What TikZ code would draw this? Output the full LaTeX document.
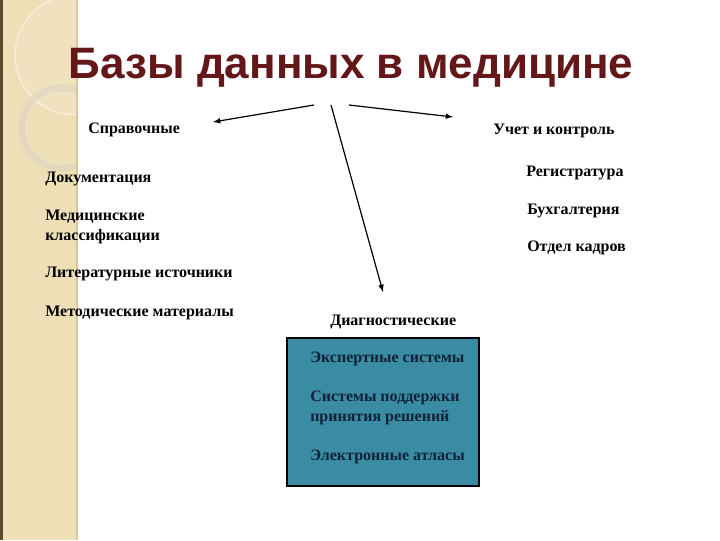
\documentclass[tikz,border=0pt]{standalone}
\usepackage{fontspec}
\setmainfont{Liberation Serif}
\newfontfamily\titlefont{Liberation Sans}
\definecolor{bandbg}{HTML}{EEDFB6}
\definecolor{bandedge}{HTML}{5E4A2E}
\definecolor{bandline}{HTML}{D8C69C}
\definecolor{ringcol}{HTML}{E2D7C0}
\definecolor{titlered}{HTML}{641719}
\definecolor{boxteal}{HTML}{3A8CA3}
\definecolor{boxtext}{HTML}{10213A}
\tikzset{
  lbl/.style={font=\bfseries\fontsize{12pt}{15pt}\selectfont, inner sep=0pt, anchor=west, align=left},
  boxlbl/.style={lbl, text=boxtext},
  arr/.style={-latex, line width=0.9pt, black}
}
\begin{document}
\begin{tikzpicture}[x=0.75pt,y=-0.75pt]
\useasboundingbox (0,0) rectangle (720,540);
\fill[white] (0,0) rectangle (720,540);
% left decorative band
\fill[bandbg] (0,0) rectangle (78,540);
\begin{scope}
  \clip (0,0) rectangle (78,540);
  \fill[white, opacity=0.12] (75,55) circle (60);
  \draw[white, opacity=0.5, line width=1pt] (75,55) circle (60);
  \draw[ringcol, opacity=0.75, line width=5.5pt] (62,128) circle (40);
  \draw[white, opacity=0.25, line width=0.8pt] (62,128) circle (36);
\end{scope}
\fill[bandedge] (0,0) rectangle (2.5,540);
\fill[bandline] (76,0) rectangle (78,540);
% title
\node[font=\titlefont\bfseries\fontsize{33pt}{38pt}\selectfont, text=titlered, inner sep=0pt] (title) at (351,68) {Базы данных в медицине};
% hub coordinates
\coordinate (hl) at (314,105);
\coordinate (hm) at (331,105);
\coordinate (hr) at (349,105);
\coordinate (el) at (213,122);
\coordinate (em) at (383,292);
\coordinate (er) at (453,117);
\draw[arr] (hl) -- (el);
\draw[arr] (hm) -- (em);
\draw[arr] (hr) -- (er);
% category labels
\node[lbl] (spr) at (88,130) {Справочные};
\node[lbl] (uch) at (493,131) {Учет и контроль};
\node[lbl] (diag) at (330,322) {Диагностические};
% left list
\node[lbl] (doc) at (45,179) {Документация};
\node[lbl] (med) at (45,227) {Медицинские\\классификации};
\node[lbl] (lit) at (45,274) {Литературные источники};
\node[lbl] (met) at (45,313) {Методические материалы};
% right list
\node[lbl] (reg) at (526,173) {Регистратура};
\node[lbl] (buh) at (527,211) {Бухгалтерия};
\node[lbl] (otd) at (527,248) {Отдел кадров};
% diagnostic box
\draw[fill=boxteal, draw=black, line width=0.8pt] (287,338) rectangle (479,486);
\node[boxlbl] (exp) at (310,359) {Экспертные системы};
\node[boxlbl] (spp) at (310,408) {Системы поддержки\\принятия решений};
\node[boxlbl] (atl) at (310,457) {Электронные атласы};
\end{tikzpicture}
\end{document}
